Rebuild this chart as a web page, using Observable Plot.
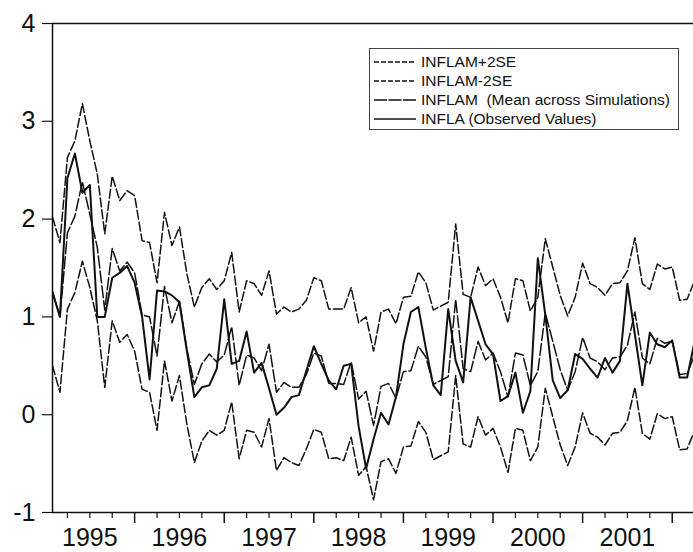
<!DOCTYPE html>
<html><head><meta charset="utf-8">
<script src="https://cdn.jsdelivr.net/npm/d3@7"></script>
<script src="https://cdn.jsdelivr.net/npm/@observablehq/plot@0.6"></script>
<style>
body{margin:0;background:#fff;font-family:"Liberation Sans",Arial,sans-serif;}
#wrap{position:relative;width:693px;height:552px;overflow:hidden;}
#wrap svg text{font-family:"Liberation Sans",Arial,sans-serif;}
#legend{position:absolute;left:369px;top:48px;width:310px;height:82px;border:1px solid #444;background:#fff;box-sizing:border-box;padding-top:3px;}
.row{display:flex;align-items:center;height:19px;font-size:15.5px;white-space:pre;color:#111;line-height:19px;}
.row svg{margin-left:4px;margin-right:5px;flex:none;}
</style></head><body><div id="wrap"></div>
<script>
// months counted from January 1995 (0); first observation is February 1995
const firstMonth = 1;
const yearLabels = ["1995","1996","1997","1998","1999","2000","2001"];
const yTicks = [-1, 0, 1, 2, 3, 4];
const seriesNames = ["INFLAM+2SE", "INFLAM-2SE", "INFLAM  (Mean across Simulations)", "INFLA (Observed Values)"];

const upper = [2.02,1.76,2.63,2.80,3.18,2.80,2.46,1.85,2.44,2.19,2.29,2.24,1.78,1.76,1.35,2.07,1.73,1.92,1.44,1.10,
1.30,1.39,1.28,1.37,1.66,1.05,1.37,1.34,1.22,1.47,1.03,1.10,1.05,1.08,1.17,1.40,1.37,1.08,1.08,1.08,
1.30,0.94,1.00,0.65,1.05,1.08,0.93,1.20,1.21,1.46,1.35,1.07,1.11,1.15,1.95,1.23,1.20,1.51,1.32,1.39,
1.20,0.94,1.39,1.37,1.06,1.20,1.80,1.51,1.22,1.01,1.20,1.55,1.34,1.30,1.22,1.34,1.35,1.47,1.81,1.34,
1.28,1.54,1.49,1.51,1.17,1.18,1.37];

const lower = [0.50,0.23,1.08,1.25,1.57,1.30,0.96,0.28,0.96,0.74,0.82,0.65,0.26,0.23,-0.16,0.55,0.14,0.40,-0.10,-0.49,
-0.27,-0.16,-0.21,-0.16,0.13,-0.45,-0.16,-0.18,-0.33,-0.04,-0.57,-0.44,-0.49,-0.52,-0.35,-0.15,-0.18,-0.45,-0.44,-0.47,
-0.23,-0.62,-0.53,-0.87,-0.48,-0.45,-0.60,-0.33,-0.32,-0.07,-0.18,-0.46,-0.42,-0.38,0.40,-0.30,-0.33,-0.02,-0.21,-0.14,
-0.33,-0.59,-0.14,-0.16,-0.47,-0.33,0.27,-0.02,-0.31,-0.52,-0.33,0.02,-0.19,-0.23,-0.31,-0.19,-0.18,-0.06,0.28,-0.19,
-0.25,0.01,-0.04,-0.02,-0.36,-0.35,-0.16];

const mean = [1.26,1.00,1.86,2.03,2.38,2.05,1.71,1.07,1.70,1.47,1.56,1.45,1.02,1.00,0.60,1.31,0.94,1.16,0.67,0.31,
0.52,0.62,0.54,0.61,0.90,0.30,0.61,0.58,0.45,0.72,0.23,0.33,0.28,0.28,0.41,0.63,0.60,0.32,0.32,0.31,
0.54,0.16,0.24,-0.11,0.29,0.32,0.17,0.44,0.45,0.70,0.59,0.31,0.35,0.39,1.18,0.47,0.44,0.75,0.56,0.63,
0.44,0.18,0.63,0.61,0.30,0.44,1.04,0.75,0.46,0.25,0.44,0.79,0.58,0.54,0.46,0.58,0.59,0.71,1.05,0.58,
0.52,0.78,0.73,0.75,0.41,0.42,0.61];

const observed = [1.25,1.00,2.42,2.67,2.27,2.35,1.00,1.00,1.40,1.45,1.52,1.35,1.00,0.36,1.27,1.26,1.22,1.15,0.65,0.18,
0.28,0.30,0.47,1.18,0.52,0.55,0.85,0.43,0.53,0.27,0.00,0.07,0.18,0.20,0.45,0.70,0.52,0.35,0.26,0.50,
0.52,-0.12,-0.55,-0.25,0.02,-0.10,0.18,0.72,1.05,1.10,0.68,0.30,0.20,1.08,0.55,0.33,1.20,0.96,0.72,0.62,
0.14,0.19,0.43,0.02,0.24,1.60,1.02,0.35,0.17,0.25,0.62,0.57,0.47,0.38,0.58,0.43,0.55,1.34,0.82,0.30,
0.84,0.72,0.69,0.76,0.38,0.38,0.75];

const toRows = arr => arr.map((v, i) => ({k: firstMonth + i, v}));
const xDomain = [firstMonth, 86.85];
const yDomain = [yTicks[0], yTicks[yTicks.length - 1]];
const yearStart = yearLabels.map((y, i) => (i + 1) * 12);
const yearMid = yearLabels.map((y, i) => i * 12 + 6);
const quarters = d3.range(3, 87, 3).filter(q => q % 12 !== 0);

const ink = "#111";
const bandDash = "9,3";
const meanDash = "12,3";
const font = "'Liberation Sans', Arial, sans-serif";

const chart = Plot.plot({
  width: 693, height: 552,
  marginLeft: 52, marginRight: 0, marginTop: 23, marginBottom: 40,
  style: {background: "#fff", color: ink, fontFamily: font},
  x: {domain: xDomain, label: null},
  y: {domain: yDomain, label: null},
  marks: [
    Plot.lineY(toRows(upper), {x: "k", y: "v", stroke: ink, strokeWidth: 1.5, strokeDasharray: bandDash, clip: true}),
    Plot.lineY(toRows(lower), {x: "k", y: "v", stroke: ink, strokeWidth: 1.5, strokeDasharray: bandDash, clip: true}),
    Plot.lineY(toRows(mean), {x: "k", y: "v", stroke: ink, strokeWidth: 1.5, strokeDasharray: meanDash, clip: true}),
    Plot.lineY(toRows(observed), {x: "k", y: "v", stroke: ink, strokeWidth: 2, clip: true}),
    Plot.ruleY([yDomain[1]], {stroke: ink, strokeWidth: 1.5}),
    Plot.ruleY([yDomain[0]], {stroke: ink, strokeWidth: 1.5}),
    Plot.ruleX([xDomain[0]], {stroke: ink, strokeWidth: 1.5}),
    Plot.axisX(quarters, {label: null, tickSize: 6, tickFormat: () => "", stroke: ink, strokeWidth: 1.2}),
    Plot.axisX(yearStart, {label: null, tickSize: 11, tickFormat: () => "", stroke: ink, strokeWidth: 1.5}),
    Plot.axisX(yearMid, {label: null, tickSize: 0, tickPadding: 16, fontSize: 25, fill: ink, tickFormat: (d) => yearLabels[(d - 6) / 12]}),
    Plot.axisY(yTicks, {label: null, tickSize: 10, tickPadding: 7, fontSize: 25, fill: ink, stroke: ink, strokeWidth: 1.2, tickFormat: d => String(d)})
  ]
});

const wrap = document.getElementById("wrap");
wrap.appendChild(chart);

const styles = [
  {dash: "5,2", w: 1.3},
  {dash: "5,2", w: 1.3},
  {dash: "13,1.5", w: 1.3},
  {dash: null, w: 1.3}
];
const legend = document.createElement("div");
legend.id = "legend";
seriesNames.forEach((name, i) => {
  const row = document.createElement("div");
  row.className = "row";
  const s = styles[i];
  row.innerHTML = `<svg width="42" height="4"><line x1="0" y1="2" x2="42" y2="2" stroke="${ink}" stroke-width="${s.w}" ${s.dash ? `stroke-dasharray="${s.dash}"` : ""}/></svg>`;
  const t = document.createElement("span");
  t.textContent = name;
  row.appendChild(t);
  legend.appendChild(row);
});
wrap.appendChild(legend);
</script></body></html>
